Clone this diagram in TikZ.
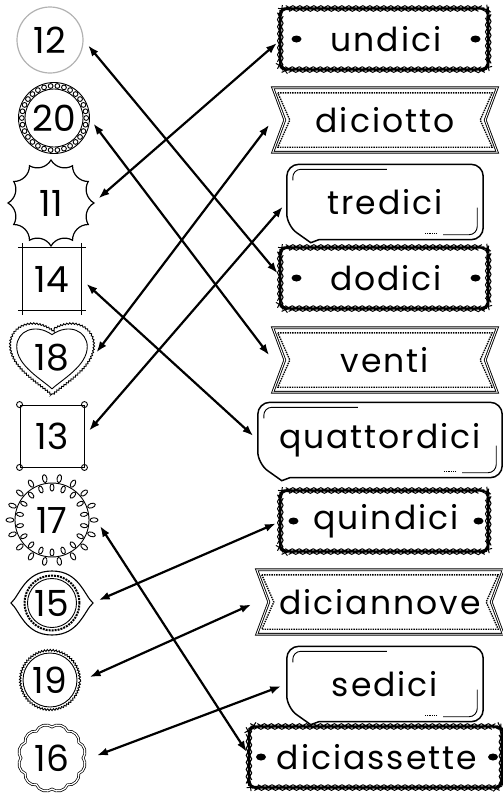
\documentclass[tikz,border=0pt]{standalone}
\usepackage{fontspec}
\setmainfont{Poppins}
\newfontfamily\kidfont{Poppins}[LetterSpace=6]
\usepackage{tikz}
\usetikzlibrary{arrows.meta,positioning,shapes.geometric,decorations.pathmorphing,calc}
\tikzset {
    num/.style={circle, inner sep=0pt, font=\fontsize{36}{42}\selectfont},
    numsq/.style={rectangle, inner sep=0pt, font=\fontsize{36}{42}\selectfont},
    word/.style={inner sep=0pt, font=\kidfont\fontsize{33}{38}\selectfont},
    tagbox/.style={word, draw, line width=1pt, rounded corners=6pt,
        minimum width=208pt, minimum height=61pt, decorate,
        decoration={snake, segment length=7pt, amplitude=0.6pt}},
    ribbon/.style={word, minimum width=224pt, minimum height=64pt},
    bubble/.style={word, minimum width=196pt, minimum height=75pt},
    edge/.style={line width=0.9pt},
    link/.style={<->, line width=2.2pt, shorten <=7pt, shorten >=6pt},
    >={Latex[length=11pt, width=8pt]}
}
\providecommand{\tagdots}[2]{%
    \fill ([xshift=#2]#1.west) ellipse (5pt and 3.5pt);
    \fill ([xshift=-#2]#1.east) ellipse (5pt and 3.5pt);}
\providecommand{\ribbonline}[1]{%
    \draw[line width=0.9pt, double, double distance=0.9pt]
        (#1.north west) -- (#1.north east) -- ([xshift=-12pt]#1.east)
        -- (#1.south east) -- (#1.south west) -- ([xshift=12pt]#1.west) -- cycle;
    \draw[densely dotted, line width=1.4pt]
        ([xshift=5pt,yshift=-5pt]#1.north west) -- ([xshift=-5pt,yshift=-5pt]#1.north east)
        -- ([xshift=-17pt]#1.east) -- ([xshift=-5pt,yshift=5pt]#1.south east)
        -- ([xshift=5pt,yshift=5pt]#1.south west) -- ([xshift=17pt]#1.west) -- cycle;}
\providecommand{\bubbleline}[1]{%
    \draw[line width=1.5pt, rounded corners=12pt]
        ([xshift=32pt]#1.south west) -- (#1.south east) -- (#1.north east)
        -- (#1.north west) -- ([yshift=14pt]#1.south west)
        [sharp corners] -- ([xshift=24pt,yshift=-3pt]#1.south west) -- cycle;
    \draw[edge, rounded corners=8pt]
        ([xshift=6pt,yshift=-16pt]#1.north west) -- ([xshift=6pt,yshift=-5pt]#1.north west)
        -- ([xshift=100pt,yshift=-5pt]#1.north west);
    \draw[edge, rounded corners=8pt]
        ([xshift=-6pt,yshift=32pt]#1.south east) -- ([xshift=-6pt,yshift=5pt]#1.south east)
        -- ([xshift=-40pt,yshift=5pt]#1.south east);
    \draw[densely dotted, line width=1.2pt]
        ([xshift=-46pt,yshift=6pt]#1.south east) -- ([xshift=-58pt,yshift=6pt]#1.south east);}

\begin{document}
\begin{tikzpicture}[x=1pt, y=1pt]
    \useasboundingbox (0,0) rectangle (503,-793);

    \node[num, draw=gray!60, line width=1.2pt, minimum size=66pt] at (50,-40) (n12) {12};
    \node[num, minimum size=70pt] at (54,-118) (n20) {20};
    \node[num, minimum size=84pt] at (51,-203) (n11) {11};
    \node[numsq, minimum width=58pt, minimum height=62pt] at (52,-279) (n14) {14};
    \node[num, minimum size=80pt] at (52,-358) (n18) {18};
    \node[numsq, draw, line width=0.9pt, minimum width=64pt, minimum height=62pt] at (52,-436) (n13) {13};
    \node[num, minimum size=88pt] at (52,-520) (n17) {17};
    \node[num, minimum size=80pt] at (52,-603) (n15) {15};
    \node[num, minimum size=66pt] at (50,-680) (n19) {19};
    \node[num, minimum size=76pt] at (52,-758) (n16) {16};

    \begin{scope}[shift={(54,-118)}]
        \draw[edge] (0,0) circle (35.5);
        \draw[edge] (0,0) circle (29);
        \foreach \a in {0,12,...,348}
            \draw[edge] (\a:32.2) circle (2.4pt);
    \end{scope}
    \begin{scope}[shift={(51,-203)}]
        \draw[line width=1.2pt] (0:43) \foreach \a in {30,60,...,360} {to[bend left=45] (\a:43)} -- cycle;
    \end{scope}
    \draw[edge] ([xshift=-5pt]n14.north west) -- ([xshift=5pt]n14.north east);
    \draw[edge] ([xshift=-5pt]n14.south west) -- ([xshift=5pt]n14.south east);
    \draw[edge] ([yshift=5pt]n14.north west) -- ([yshift=-5pt]n14.south west);
    \draw[edge] ([yshift=5pt]n14.north east) -- ([yshift=-5pt]n14.south east);
    \begin{scope}[shift={(52,-357)}]
        \draw[edge, decorate, decoration={bumps, segment length=6pt, amplitude=1.6pt}]
            (0,-37) .. controls (-12,-26) and (-41,-10) .. (-41,12)
            .. controls (-41,30) and (-20,40) .. (0,26)
            .. controls (20,40) and (41,30) .. (41,12)
            .. controls (41,-10) and (12,-26) .. (0,-37) -- cycle;
        \draw[edge, scale=0.86]
            (0,-37) .. controls (-12,-26) and (-41,-10) .. (-41,12)
            .. controls (-41,30) and (-20,40) .. (0,26)
            .. controls (20,40) and (41,30) .. (41,12)
            .. controls (41,-10) and (12,-26) .. (0,-37) -- cycle;
    \end{scope}
    \foreach \c in {north west,north east,south west,south east}
        \draw[edge] (n13.\c) circle (3pt);
    \begin{scope}[shift={(52,-520)}]
        \draw[edge] (0,0) circle (37);
        \foreach \a in {0,20,...,340} {
            \draw[edge, rotate=\a] (42,0) ellipse (4pt and 2.2pt);
            \draw[edge, rotate=\a+10] (32.5,0) ellipse (3.6pt and 2pt);
        }
    \end{scope}
    \begin{scope}[shift={(52,-603)}]
        \draw[line width=1.1pt] (-41,0) .. controls (-32,8) and (-27,32) .. (0,32)
            .. controls (27,32) and (32,8) .. (41,0)
            .. controls (32,-8) and (27,-32) .. (0,-32)
            .. controls (-27,-32) and (-32,-8) .. (-41,0) -- cycle;
        \draw[densely dotted, line width=2pt] (0,0) circle (27.5);
        \draw[edge] (0,0) circle (24.5);
    \end{scope}
    \begin{scope}[shift={(50,-680)}]
        \draw[edge] (0,0) circle (27);
        \draw[edge, decorate, decoration={bumps, segment length=5.95pt, amplitude=1.6pt}] (0,0) circle (30.5);
    \end{scope}
    \begin{scope}[shift={(52,-758)}]
        \draw[line width=0.7pt, double, double distance=1.3pt]
            (0:31) \foreach \a in {30,60,...,360} {to[bend right=55] (\a:31)} -- cycle;
    \end{scope}

    \node[tagbox] at (386,-39) (undici) {undici};
    \node[ribbon] at (385,-120) (diciotto) {diciotto};
    \node[bubble] at (385,-202) (tredici) {tredici};
    \node[tagbox] at (386,-278) (dodici) {dodici};
    \node[ribbon] at (385,-360) (venti) {venti};
    \node[bubble, minimum width=244pt] at (380,-440) (quattordici) {quattordici};
    \node[tagbox] at (386,-521) (quindici) {quindici};
    \node[ribbon, minimum width=246pt] at (380,-602) (diciannove) {diciannove};
    \node[bubble] at (385,-684) (sedici) {sedici};
    \node[tagbox, minimum width=253pt] at (377,-757) (diciassette) {diciassette};

    \tagdots{undici}{15pt}
    \tagdots{dodici}{15pt}
    \tagdots{quindici}{12pt}
    \tagdots{diciassette}{11pt}
    \ribbonline{diciotto}
    \ribbonline{venti}
    \ribbonline{diciannove}
    \bubbleline{tredici}
    \bubbleline{quattordici}
    \bubbleline{sedici}

    \draw[link] (n12.east) -- (dodici.west);
    \draw[link] (n20.east) -- (venti.west);
    \draw[link] (n11.east) -- (undici.west);
    \draw[link] (n14.east) -- (quattordici.west);
    \draw[link] (n18.east) -- (diciotto.west);
    \draw[link] (n13.east) -- (tredici.west);
    \draw[link] (n17.east) -- (diciassette.west);
    \draw[link] (n15.east) -- (quindici.west);
    \draw[link] (n19.east) -- (diciannove.west);
    \draw[link] (n16.east) -- (sedici.west);
\end{tikzpicture}
\end{document}
